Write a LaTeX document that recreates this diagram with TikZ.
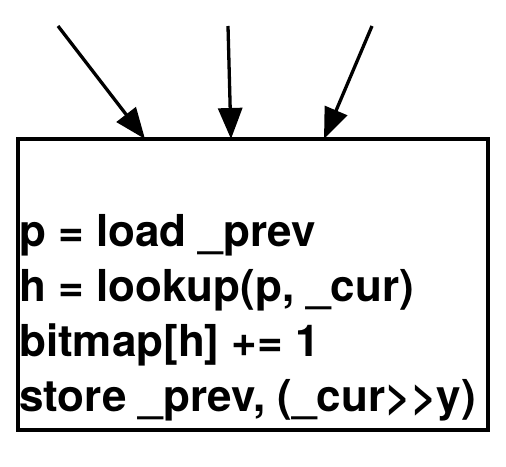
\documentclass[tikz,border=0pt]{standalone}
\usepackage{fontspec}
\setmainfont{TeX Gyre Heros}
\usetikzlibrary{arrows.meta}
\begin{document}
\begin{tikzpicture}[x=1pt,y=1pt,
  codeline/.style={anchor=base west,inner sep=0pt,font=\fontsize{44}{55}\selectfont\bfseries},
  feed/.style={line width=3.3pt,-{Triangle[length=31pt,width=24pt]}}]
\useasboundingbox (0,0) rectangle (506,466);
\node[draw,line width=4.5pt,minimum width=470pt,minimum height=290.5pt,inner sep=0pt,anchor=south west] (box) at (15.5,34) {};
\coordinate (s1) at (58,440);
\coordinate (s2) at (228,440);
\coordinate (s3) at (372,440);
\coordinate (t1) at (145,327);
\coordinate (t2) at (231,327);
\coordinate (t3) at (324,327);
\draw[feed] (s1) -- (t1);
\draw[feed] (s2) -- (t2);
\draw[feed] (s3) -- (t3);
\node[codeline] (l1) at (19,219) {p = load \_prev};
\node[codeline] (l2) at (19,164) {h = lookup(p, \_cur)};
\node[codeline] (l3) at (19,109) {bitmap[h] += 1};
\node[codeline] (l4) at (19,54) {store \_prev, (\_cur>{}>y)};
\end{tikzpicture}
\end{document}
